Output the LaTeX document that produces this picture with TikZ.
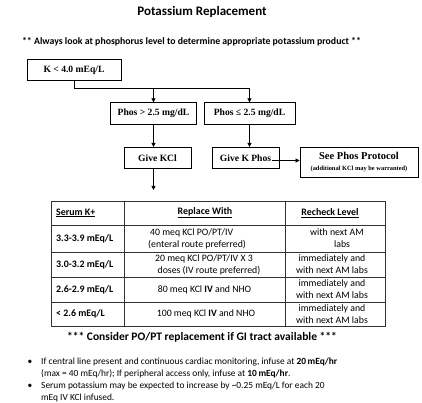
\documentclass[tikz,border=0pt]{standalone}
\usepackage{fontspec}
\setmainfont{Carlito}
\newfontfamily\tnr{Liberation Serif}
\usetikzlibrary{arrows.meta}

\begin{document}
\begin{tikzpicture}[x=1pt, y=-1pt, every node/.style={inner sep=0pt}, >={Triangle[length=4pt,width=4pt]},
	flowbox/.style={draw, line width=0.7pt, font=\tnr\bfseries\fontsize{9.6}{10}\selectfont, minimum height=21.5pt},
	cell/.style={font=\fontsize{9.8}{12}\selectfont, align=center},
	headcell/.style={font=\bfseries\fontsize{9.9}{12}\selectfont},
	note/.style={font=\fontsize{9.4}{12.1}\selectfont, align=left, anchor=base west},
	grid/.style={line width=0.7pt, black!80}]
	\useasboundingbox (0,0) rectangle (422,403);
	% heading
	\node[font=\bfseries\fontsize{13}{15}\selectfont] (title) at (202,12) {Potassium Replacement};
	\node[font=\bfseries\fontsize{9.8}{11}\selectfont] (hint) at (191.5,42) {** Always look at phosphorus level to determine appropriate potassium product **};
	% flow chart
	\node[flowbox, minimum width=94pt] (kbox) at (74,70) {K < 4.0 mEq/L};
	\node[flowbox, minimum width=86pt] (phosA) at (153.5,113.5) {Phos > 2.5 mg/dL};
	\node[flowbox, minimum width=91pt] (phosB) at (249.5,113.5) {Phos ≤ 2.5 mg/dL};
	\node[flowbox, minimum width=67pt] (kcl) at (157.5,158) {Give KCl};
	\node[flowbox, minimum width=67pt] (kphos) at (245.5,158) {Give K Phos};
	\node[draw, line width=0.7pt, minimum width=118pt, minimum height=30pt, align=center, font=\tnr\bfseries] (protocol) at (359,162)
		{{\fontsize{10.5}{11}\selectfont See Phos Protocol}\\[-1pt]{\fontsize{6.4}{7}\selectfont (additional KCl may be warranted)}};
	\coordinate (fork) at (73,88);
	\coordinate (kclout) at (153.5,190);
	\draw[line width=0.6pt] (kbox.south) -- (kbox.south |- fork) -- (phosB.north |- fork);
	\draw[->, line width=0.6pt] (phosA.north |- fork) -- (phosA.north);
	\draw[->, line width=0.6pt] (phosB.north |- fork) -- (phosB.north);
	\draw[->, line width=0.6pt] (phosA.south) -- (phosA.south |- kcl.north);
	\draw[->, line width=0.6pt] (phosB.south) -- (phosB.south |- kphos.north);
	\draw[->, line width=0.6pt] (phosA.south |- kcl.south) -- (kclout);
	\draw[->, line width=0.6pt] ([xshift=-7pt,yshift=-2.5pt]kphos.east) -- ([yshift=1.5pt]protocol.west);
	% table
	\draw[grid] (51,201) rectangle (385,326);
	\foreach \y in {225,252,277,302}
		\draw[grid] (51,\y) -- (385,\y);
	\foreach \x in {124,285}
		\draw[grid] (\x,201) -- (\x,326);
	\node[headcell, anchor=west] (hk) at (56,213) {\underline{Serum K+}};
	\node[headcell] (hr) at (205,213) {\underline{Replace With}};
	\node[headcell] (hc) at (330,213) {\underline{Recheck Level}};
	\node[headcell, anchor=west] (k1) at (56,238.5) {3.3-3.9 mEq/L};
	\node[headcell, anchor=west] (k2) at (56,264.5) {3.0-3.2 mEq/L};
	\node[headcell, anchor=west] (k3) at (56,289.5) {2.6-2.9 mEq/L};
	\node[headcell, anchor=west] (k4) at (56,314) {< 2.6 mEq/L};
	\node[cell, align=left, anchor=west] (r1) at (148,238.5) {\hspace*{2pt}40 meq KCl PO/PT/IV\\(enteral route preferred)};
	\node[cell] (r2) at (204,264.5) {20 meq KCl PO/PT/IV X 3\\\hspace*{10pt}doses (IV route preferred)};
	\node[cell] (r3) at (204.5,289.5) {80 meq KCl \textbf{IV} and NHO};
	\node[cell] (r4) at (206,314) {100 meq KCl \textbf{IV} and NHO};
	\node[cell] (c1) at (337,238.5) {with next AM\\\hspace*{10pt}labs};
	\node[cell] (c2) at (332,264.5) {immediately and\\with next AM labs};
	\node[cell] (c3) at (332,289.5) {immediately and\\with next AM labs};
	\node[cell] (c4) at (332,314) {immediately and\\with next AM labs};
	\node[font=\bfseries\fontsize{11.5}{13}\selectfont] (consider) at (202,337) {*** Consider PO/PT replacement if GI tract available ***};
	% notes
	\node[font=\fontsize{9.4}{12}\selectfont, anchor=base] (dot1) at (30,364.5) {\textbullet};
	\node[font=\fontsize{9.4}{12}\selectfont, anchor=base] (dot2) at (30,388.7) {\textbullet};
	\node[note] (note1) at (41,376.6)
		{If central line present and continuous cardiac monitoring, infuse at \textbf{20\,mEq/hr}\\(max = 40 mEq/hr); If peripheral access only, infuse at \textbf{10\,mEq/hr}.};
	\node[note] (note2) at (41,400.2)
		{Serum potassium may be expected to increase by \textasciitilde0.25 mEq/L for each 20\\mEq IV KCl infused.};
\end{tikzpicture}
\end{document}
